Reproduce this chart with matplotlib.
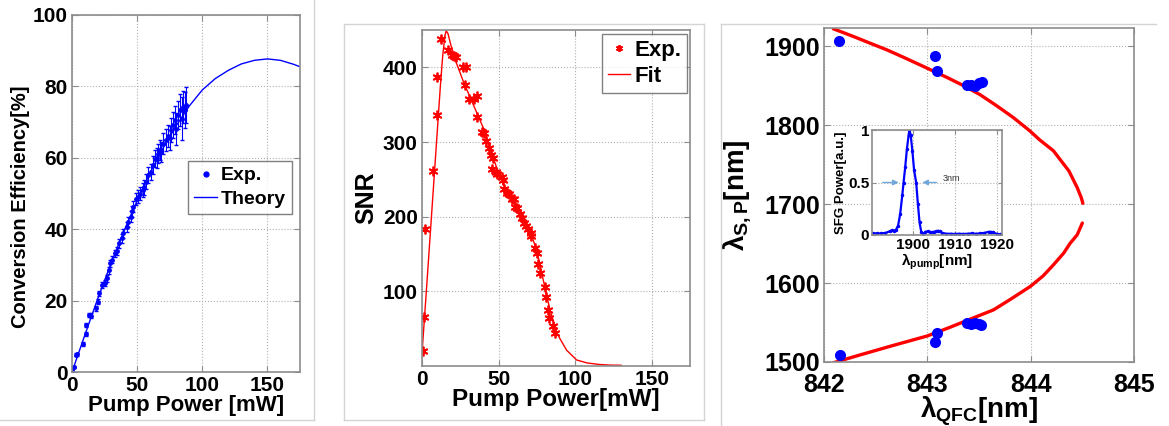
import matplotlib
matplotlib.use("Agg")
import matplotlib.pyplot as plt
from matplotlib.lines import Line2D

# ---------------- data ----------------
# Panel 1: conversion efficiency
ce_power = [0.3, 1.2, 2.8, 4.0, 8.2, 10.5, 11.0, 13.3, 14.5, 18.4, 20.2, 21.0, 22.8, 25.0,
            26.6, 28.6, 29.5, 31.0, 33.0, 34.5, 36.3, 38.1, 39.4, 42.0, 43.2, 45.0, 46.0,
            47.0, 49.1, 50.9, 52.5, 54.2, 55.3, 56.8, 58.6, 60.4, 62.4, 63.7, 65.0, 66.2,
            67.5, 68.5, 70.0, 72.1, 73.9, 75.0, 76.0, 77.7, 79.0, 80.2, 81.6, 82.9, 84.2,
            85.4, 86.7, 87.5]
ce_eff = [0.2, 1.5, 4.8, 5.0, 7.8, 10.6, 13.2, 16.0, 15.8, 17.8, 19.7, 22.0, 24.4, 25.0,
          26.2, 28.5, 30.4, 31.5, 33.2, 34.0, 36.0, 37.4, 38.8, 40.7, 42.1, 43.5, 45.0,
          46.3, 48.4, 49.1, 50.0, 51.0, 51.7, 53.3, 55.2, 56.1, 58.0, 59.8, 60.0, 61.2,
          62.2, 61.5, 64.0, 65.0, 66.1, 65.5, 67.8, 69.2, 70.6, 68.0, 72.0, 73.4, 71.0,
          74.3, 73.4, 74.8]
ce_err = [0.3, 0.3, 0.4, 0.4, 0.5, 0.5, 0.5, 0.6, 0.6, 0.7, 0.7, 0.8, 0.8, 0.9, 0.9, 1.0,
          1.0, 1.0, 1.1, 1.1, 1.2, 1.2, 1.3, 1.4, 1.4, 1.5, 1.5, 1.6, 1.7, 1.8, 1.9, 2.0,
          2.0, 2.1, 2.2, 2.3, 2.4, 2.5, 2.8, 2.6, 2.7, 2.8, 2.9, 3.0, 3.2, 3.3, 3.4, 3.6,
          3.8, 4.5, 4.0, 4.5, 6.0, 4.5, 5.0, 5.0]
th_power = [0, 10, 20, 30, 40, 50, 60, 70, 80, 90, 100, 110, 120, 130, 140, 150, 160, 170, 175]
th_eff = [0, 10.5, 20.8, 30.5, 39.6, 48.0, 55.8, 62.8, 69.0, 74.5, 79.0, 82.2, 84.5, 86.3,
          87.3, 87.7, 87.3, 86.2, 85.5]

# Panel 2: SNR
snr_power = [0.4, 1.0, 2.0, 7.3, 9.7, 9.7, 12.5, 17.0, 19.5, 21.0, 22.5, 26.5, 28.5, 28.0,
             30.7, 34.0, 35.6, 35.9, 39.5, 40.8, 42.0, 43.6, 45.0, 46.4, 46.0, 48.0, 49.0,
             52.0, 53.0, 53.3, 55.5, 57.0, 58.5, 60.0, 60.5, 62.2, 64.0, 65.4, 66.5, 67.6,
             69.5, 71.0, 71.3, 74.0, 75.4, 76.0, 77.3, 80.0, 81.2, 82.0, 83.0, 85.3, 87.0]
snr_val = [20, 66, 183, 261, 336, 387, 438, 423, 417, 415, 414, 400, 400, 376,
           358, 357, 361, 334, 313, 312, 302, 292, 283, 278, 264, 260, 257,
           253, 249, 237, 232, 230, 224, 223, 213, 212, 204, 198, 191, 187,
           184, 178, 174, 158, 152, 136, 124, 106, 93, 75, 64, 53, 44]
fit_power = [0, 3, 6, 9, 12, 13.5, 15, 15.8, 17, 20.4, 27, 33.5, 40, 44.4, 51, 57.5, 64,
             70.5, 74.9, 79.2, 83.6, 88, 94.5, 101, 108, 116, 123, 130]
fit_snr = [17, 105, 195, 285, 375, 415, 443, 449, 445, 417, 381, 350, 319, 292, 252, 226,
           204, 181, 155, 115, 75, 44, 21, 8, 4, 2, 1.2, 1]

# Panel 3: phase matching
qfc_top = [842.09, 842.284, 842.445, 842.607, 842.768, 842.929, 843.187, 843.35, 843.51,
           843.67, 843.83, 843.99, 844.09, 844.22, 844.37, 844.45, 844.49, 844.505]
sp_top = [1922, 1912.3, 1903.8, 1895.4, 1886, 1876.3, 1860.6, 1850, 1838.6,
          1824.6, 1809.8, 1792.9, 1781, 1767.5, 1742, 1721, 1708, 1701]
qfc_bot = [842.09, 842.35, 842.67, 843.0, 843.22, 843.41, 843.64, 843.8, 844.0, 844.12,
           844.22, 844.32, 844.38, 844.45, 844.5]
sp_bot = [1499, 1509, 1521, 1533, 1544, 1554, 1566, 1579, 1596, 1609,
          1623, 1638, 1650, 1661, 1676]
dot_qfc = [842.145, 843.07, 843.09, 843.38, 843.42, 843.46, 843.50, 843.53,
           842.15, 843.09, 843.07, 843.38, 843.42, 843.46, 843.50, 843.52]
dot_sp = [1906, 1887, 1868, 1851, 1851, 1850, 1853, 1854,
          1509, 1537, 1525, 1549, 1548, 1549, 1548, 1547]

# Inset: SFG spectrum
pump_wl = [1890.5, 1891.5, 1892.5, 1893.5, 1894.5, 1895.0, 1895.5, 1896.0, 1896.5, 1897.0,
           1897.5, 1897.8, 1898.2, 1898.6, 1899.0, 1899.2, 1899.5, 1899.9, 1900.3, 1900.8,
           1901.2, 1901.6, 1902.0, 1902.5, 1903.0, 1903.5, 1904.0, 1904.5, 1905.0, 1905.5,
           1906.0, 1906.5, 1907.0, 1908.0, 1909.0, 1910.0, 1911.0, 1912.0, 1913.0, 1914.0,
           1915.0, 1916.0, 1917.0, 1918.0, 1918.5, 1919.0, 1920.0, 1920.8]
sfg_pow = [0.015, 0.015, 0.015, 0.02, 0.035, 0.045, 0.04, 0.05, 0.09, 0.2,
           0.38, 0.5, 0.65, 0.82, 0.95, 1.0, 0.95, 0.8, 0.62, 0.5,
           0.3, 0.12, 0.03, 0.01, 0.03, 0.035, 0.03, 0.025, 0.03, 0.035,
           0.04, 0.035, 0.02, 0.012, 0.012, 0.01, 0.012, 0.01, 0.012, 0.015,
           0.012, 0.015, 0.02, 0.03, 0.03, 0.025, 0.01, 0.005]

# ---------------- style ----------------
plt.rcParams['font.family'] = ['Liberation Sans', 'DejaVu Sans']
plt.rcParams['font.weight'] = 'bold'
plt.rcParams['axes.labelweight'] = 'bold'
plt.rcParams['mathtext.fontset'] = 'custom'
plt.rcParams['mathtext.rm'] = 'Liberation Sans:bold'
plt.rcParams['mathtext.it'] = 'Liberation Sans:bold'
plt.rcParams['mathtext.bf'] = 'Liberation Sans:bold'

W, H = 1169, 426
fig = plt.figure(figsize=(W / 100, H / 100), dpi=100)

SPINE = '#8c8c8c'
ASTER = (6, 2, 0)


def px_axes(l, t, r, b):
    return fig.add_axes([l / W, (H - b) / H, (r - l) / W, (b - t) / H])


def style(ax, fs):
    for s in ax.spines.values():
        s.set_color(SPINE)
        s.set_linewidth(1.2)
    ax.tick_params(direction='in', length=4, width=0.8, color=SPINE, labelsize=fs,
                   labelcolor='black', top=True, right=True, pad=3)
    ax.grid(True, linestyle=':', color='#b0b0b0', linewidth=0.8)
    for lab in ax.get_xticklabels() + ax.get_yticklabels():
        lab.set_fontweight('bold')


def fline(x0, y0, x1, y1):
    fig.add_artist(Line2D([x0 / W, x1 / W], [(H - y0) / H, (H - y1) / H],
                          color='#d4d4d4', lw=1.0))

# frames around panels
fline(0, 420, 314, 420)
fline(314, 0, 314, 420)
fline(344, 24, 704, 24)
fline(344, 24, 344, 420)
fline(704, 24, 704, 420)
fline(344, 420, 704, 420)
fline(721, 24, 1156, 24)
fline(721, 24, 721, 426)

# ---------------- panel 1 ----------------
ax1 = px_axes(72, 15, 300, 372)
ax1.errorbar(ce_power, ce_eff, yerr=ce_err, fmt='.', color='blue', ms=5, lw=0.8,
             capsize=1.5, elinewidth=0.8)
ax1.plot(th_power, th_eff, '-', color='blue', lw=1.0)
ax1.set_xlim(0, 175)
ax1.set_ylim(0, 100)
ax1.set_xticks([0, 50, 100, 150])
ax1.set_yticks([0, 20, 40, 60, 80, 100])
style(ax1, 15)
ax1.set_xlabel('Pump Power [mW]', fontsize=16, fontweight='bold', labelpad=0)
ax1.set_ylabel('Conversion Efficiency[%]', fontsize=14.5, fontweight='bold')
ax1.yaxis.set_label_coords(-0.185, 0.462)
h_exp = Line2D([], [], marker='.', ls='none', color='blue', ms=7)
h_th = Line2D([], [], ls='-', color='blue', lw=1.0)
leg1 = ax1.legend([h_exp, h_th], ['Exp.', 'Theory'], loc='upper right',
                  bbox_to_anchor=(0.965, 0.591), fontsize=14,
                  frameon=True, fancybox=False, edgecolor='#606060', handlelength=1.2,
                  handletextpad=0.2, borderpad=0.3, labelspacing=0.3, borderaxespad=0)
leg1.get_frame().set_linewidth(1.0)
for t in leg1.get_texts():
    t.set_fontweight('bold')

# ---------------- panel 2 ----------------
ax2 = px_axes(422, 30, 690, 366)
ax2.plot(snr_power, snr_val, ls='none', marker=ASTER, color='red', ms=7, mew=1.3)
ax2.plot(fit_power, fit_snr, '-', color='red', lw=1.0)
ax2.set_xlim(0, 175)
ax2.set_ylim(0, 450)
ax2.set_xticks([0, 50, 100, 150])
ax2.set_yticks([100, 200, 300, 400])
style(ax2, 15)
ax2.set_xlabel('Pump Power[mW]', fontsize=17.5, fontweight='bold', labelpad=-1)
ax2.set_ylabel('SNR', fontsize=18, fontweight='bold', labelpad=3)
h_e2 = Line2D([], [], ls='none', marker=ASTER, color='red', ms=5, mew=1.3)
h_f2 = Line2D([], [], ls='-', color='red', lw=1.0)
leg2 = ax2.legend([h_e2, h_f2], ['Exp.', 'Fit'], loc='upper right',
                  bbox_to_anchor=(0.989, 0.988), fontsize=16,
                  frameon=True, fancybox=False, edgecolor='#606060', handlelength=1.0,
                  handletextpad=0.2, borderpad=0.25, labelspacing=0.25, borderaxespad=0)
leg2.get_frame().set_linewidth(1.0)
for t in leg2.get_texts():
    t.set_fontweight('bold')

# ---------------- panel 3 ----------------
ax3 = px_axes(824, 28, 1134, 362)
ax3.plot(qfc_top, sp_top, '-', color='red', lw=2.4, solid_capstyle='round')
ax3.plot(qfc_bot, sp_bot, '-', color='red', lw=2.4, solid_capstyle='round')
ax3.plot(dot_qfc, dot_sp, 'o', color='blue', ms=8, mew=0)
ax3.set_xlim(842, 845)
ax3.set_ylim(1500, 1923)
ax3.set_xticks([842, 843, 844, 845])
ax3.set_yticks([1500, 1600, 1700, 1800, 1900])
style(ax3, 18)
ax3.tick_params(axis='x', pad=8)
ax3.set_xlabel(r'$λ_{QFC}$[nm]', fontsize=20, fontweight='bold', labelpad=-2)
ax3.set_ylabel(r'$λ_{S,P}$[nm]', fontsize=20, fontweight='bold', labelpad=8)

# inset
axi = px_axes(872, 130, 1002, 235)
axi.set_facecolor('white')
axi.plot(pump_wl, sfg_pow, '.-', color='blue', lw=1.6, ms=3)
axi.set_xlim(1890.3, 1921.2)
axi.set_ylim(0, 1)
axi.set_xticks([1900, 1910, 1920])
axi.set_yticks([0, 0.5, 1])
axi.set_yticklabels(['0', '0.5', '1'])
style(axi, 11)
axi.tick_params(pad=2, length=3)
axi.set_xlabel(r'$λ_{pump}$[nm]', fontsize=11, fontweight='bold', labelpad=0)
axi.set_ylabel('SFG Power[a.u.]', fontsize=9.5, fontweight='bold', labelpad=1)
acol = '#6fa8dc'
axi.annotate('', xy=(1897.3, 0.5), xytext=(1892.2, 0.5),
             arrowprops=dict(arrowstyle='-|>', color=acol, lw=1.0, mutation_scale=8))
axi.annotate('', xy=(1901.6, 0.5), xytext=(1906.3, 0.5),
             arrowprops=dict(arrowstyle='-|>', color=acol, lw=1.0, mutation_scale=8))
axi.text(1907.0, 0.54, '3nm', fontsize=6.5, fontweight='normal', color='#333333',
         va='center', ha='left')

fig.savefig('out.png', dpi=100)
